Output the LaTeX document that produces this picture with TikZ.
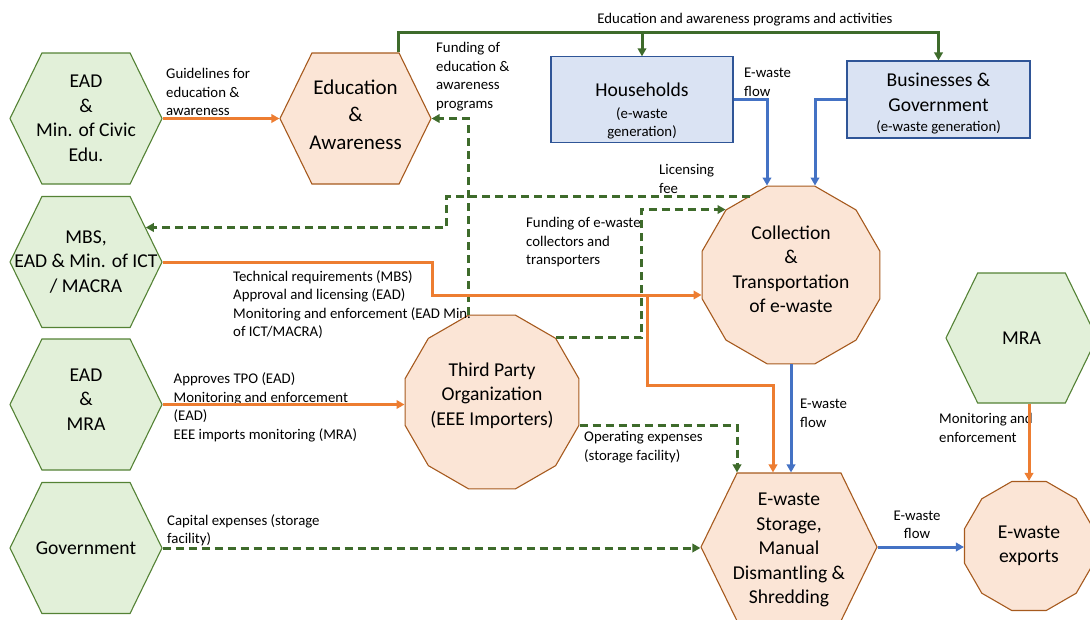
\documentclass[tikz,border=0pt]{standalone}
\usepackage{fontspec}
\setmainfont{Carlito}
\usepackage{tikz}
\usetikzlibrary{shapes.geometric,shapes.symbols,arrows.meta,calc}
\definecolor{actfill}{HTML}{E2F0D9}
\definecolor{actedge}{HTML}{548235}
\definecolor{stgfill}{HTML}{FBE5D6}
\definecolor{stgedge}{HTML}{A65A1E}
\definecolor{genfill}{HTML}{DAE3F3}
\definecolor{genedge}{HTML}{2F5597}
\definecolor{regorange}{HTML}{ED7D31}
\definecolor{flowblue}{HTML}{4472C4}
\definecolor{fundgreen}{HTML}{3E6B2B}
\newcommand{\lsize}{\fontsize{14.8}{18.5}\selectfont}
\newcommand{\bsize}{\fontsize{19.6}{24.5}\selectfont}
\newcommand{\esize}{\fontsize{21}{27.5}\selectfont}
\newcommand{\lift}[1]{\rule[-#1]{0pt}{#1}}
\newcommand{\drop}[1]{\rule{0pt}{#1}}

\begin{document}
\begin{tikzpicture}[x=1pt, y=-1pt,
	hexa/.style={signal, signal to=east and west, signal pointer angle=128,
		inner xsep=-30pt, inner ysep=0pt, line width=1.1pt, font=\bsize, align=center,
		minimum width=152pt, minimum height=131pt},
	actor/.style={hexa, draw=actedge, fill=actfill},
	hexstage/.style={hexa, draw=stgedge, fill=stgfill},
	stage/.style={regular polygon, regular polygon sides=12, draw=stgedge, fill=stgfill,
		line width=1.1pt, inner sep=-15pt, font=\bsize, align=center},
	gen/.style={rectangle, draw=genedge, fill=genfill, line width=1.1pt,
		minimum width=182pt, minimum height=77pt, font=\bsize, align=center},
	regul/.style={draw=regorange, line width=3pt, -{Triangle[length=8pt,width=8.5pt]}},
	flow/.style={draw=flowblue, line width=3pt, -{Triangle[length=8pt,width=8.5pt]}},
	fund/.style={draw=fundgreen, line width=3pt, dash pattern=on 8pt off 5pt,
		-{Triangle[length=8pt,width=8.5pt]}},
	prog/.style={draw=fundgreen, line width=3pt, -{Triangle[length=8pt,width=8.5pt]}},
	lbl/.style={font=\lsize, align=left, anchor=base west, inner sep=0pt}]
	\useasboundingbox (0,0) rectangle (1090,619);
	\coordinate (topline) at (0,32);

	\node[actor] (civic) at (86,118.5) {EAD\\\&\\Min. of Civic\\Edu.};
	\node[actor] (mbs) at (86,262) {MBS,\\EAD \& Min. of ICT\\/ MACRA};
	\node[actor] (eadmra) at (86,404.5) {EAD\\\&\\MRA\lift{10pt}};
	\node[actor] (gov) at (86,548) {Government};
	\node[actor, minimum width=151pt, minimum height=130pt] (mra) at (1021.5,338) {MRA};

	\node[hexstage, minimum width=151pt, font=\esize] (edu) at (355.5,118.5) {Education\\\&\\Awareness\lift{8pt}};
	\node[stage, minimum size=184pt] (coll) at (791,275) {Collection\\\&\\Transportation\\of e-waste\lift{12pt}};
	\node[stage, minimum size=180pt] (tpo) at (492,402) {Third Party\\Organization\\(EEE Importers)\lift{16pt}};
	\node[hexstage, minimum width=176pt, minimum height=148pt] (store) at (789,547) {\drop{19pt}E-waste\\Storage,\\Manual\\Dismantling \&\\Shredding};
	\node[stage, minimum size=133.5pt] (exp) at (1029,546) {E-waste\\exports};

	\node[gen] (house) at (642,99.5) {\drop{36pt}Households\\[-2pt]\lsize (e-waste\\[-7pt]\lsize generation)};
	\node[gen, minimum width=183pt] (biz) at (938.5,99.5) {\drop{22pt}Businesses \&\\Government\\[-4pt]\lsize (e-waste generation)};

	\node[lbl, anchor=base] (l-prog) at (745,23.5) {Education and awareness programs and activities};
	\node[lbl] (l-guide) at (166,115.5) {Guidelines for\\education \&\\awareness};
	\node[lbl] (l-fundedu) at (436,108) {Funding of\\education \&\\awareness\\programs};
	\node[lbl] (l-flow1) at (744,96) {E-waste\\flow};
	\node[lbl] (l-lic) at (659,193) {Licensing\\fee};
	\node[lbl] (l-fundcoll) at (526,264.5) {Funding of e-waste\\collectors and\\transporters};
	\node[lbl] (l-tech) at (233,336.5) {Technical requirements (MBS)\\Approval and licensing (EAD)\\Monitoring and enforcement (EAD Min.\\of ICT/MACRA)};
	\node[lbl] (l-tpo) at (173.5,439) {Approves TPO (EAD)\\Monitoring and enforcement\\(EAD)\\EEE imports monitoring (MRA)};
	\node[lbl] (l-opex) at (584,460) {Operating expenses\\(storage facility)};
	\node[lbl] (l-flow2) at (800,427) {E-waste\\flow};
	\node[lbl] (l-mon) at (939,442) {Monitoring and\\enforcement};
	\node[lbl] (l-capex) at (167,543.5) {Capital expenses (storage\\facility)};
	\node[lbl, align=center, anchor=base] (l-flow3) at (917,538.5) {E-waste\\flow};

	\draw[regul] (civic.east) -- (edu.west);
	\draw[prog] ([xshift=43pt]edu.north) |- (biz.north |- topline) -- (biz.north);
	\draw[prog] (house.north |- topline) -- (house.north);
	\draw[flow] (house.east) -| ([xshift=-24pt]coll.north);
	\draw[flow] (biz.west) -| ([xshift=24pt]coll.north);
	\draw[fund] ($(coll.center)+(-41,-79)$) -| ($(mbs.30)+(301,0)$) -- (mbs.30);
	\draw[fund] (tpo.45) -| ($(coll.135)+(-84,0)$) -- (coll.135);
	\draw[fund] (tpo.105) |- (edu.east);
	\draw[regul] (mbs.east) -| (432,295) -- (coll.west |- 0,295);
	\draw[regul] (647,295) |- (773,385) -- (773,0 |- store.north);
	\draw[regul] (eadmra.east) -- (eadmra.east -| tpo.west);
	\draw[fund] (tpo.east |- 0,425) -| ([xshift=-52pt]store.north);
	\draw[flow] (coll.south) -- (coll.south |- store.north);
	\draw[fund] (gov.east) -- (gov.east -| store.west);
	\draw[flow] (store.east) -- (store.east -| exp.west);
	\draw[regul] (exp.north |- mra.south) -- (exp.north);
\end{tikzpicture}
\end{document}
